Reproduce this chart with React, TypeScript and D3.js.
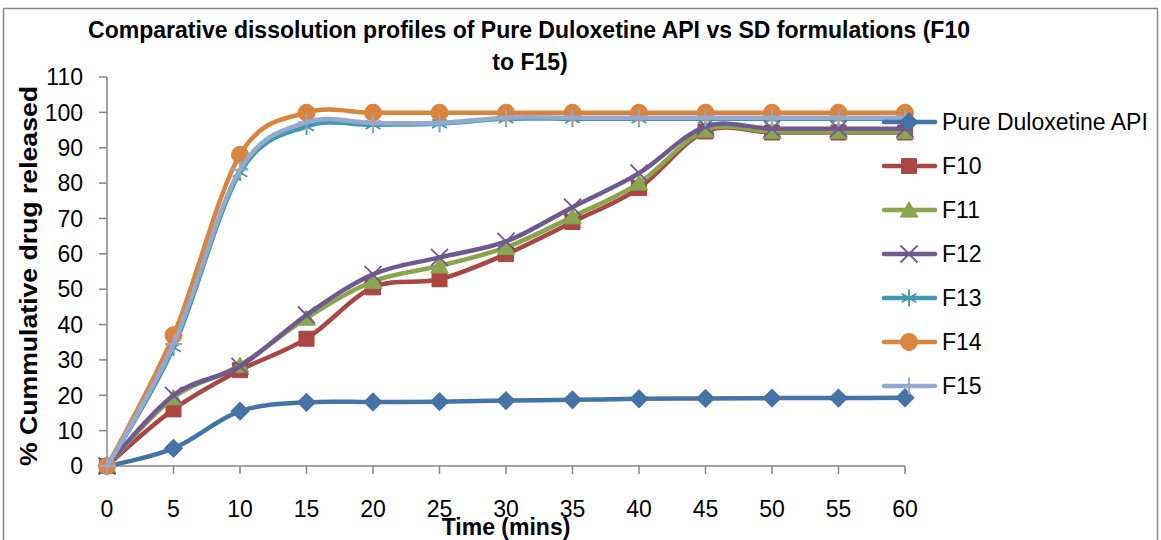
import React, { useEffect, useRef } from 'react';
import * as d3 from 'd3';

// minutes
const times = [0, 5, 10, 15, 20, 25, 30, 35, 40, 45, 50, 55, 60];

const pureApi = [0, 5.0, 15.5, 18.0, 18.1, 18.2, 18.5, 18.7, 19.0, 19.1, 19.2, 19.2, 19.3];
const f10 = [0, 16.0, 27.1, 36.0, 50.5, 52.8, 59.9, 69.0, 78.6, 94.6, 94.3, 94.3, 94.3];
const f11 = [0, 19.3, 28.5, 41.8, 52.2, 56.6, 61.8, 70.5, 80.0, 95.0, 94.6, 94.6, 94.6];
const f12 = [0, 20.0, 28.2, 42.7, 54.2, 59.0, 63.5, 73.2, 82.8, 96.0, 95.4, 95.4, 95.4];
const f13 = [0, 33.5, 83.0, 96.0, 96.5, 96.8, 98.2, 98.2, 98.2, 98.2, 98.2, 98.2, 98.2];
const f14 = [0, 37.0, 88.0, 99.9, 99.9, 99.9, 99.9, 99.9, 99.9, 99.9, 99.9, 99.9, 99.9];
const f15 = [0, 34.5, 83.8, 97.2, 97.0, 97.0, 98.5, 98.5, 98.5, 98.5, 98.5, 98.5, 98.5];

const seriesNames = ['Pure Duloxetine API', 'F10', 'F11', 'F12', 'F13', 'F14', 'F15'];
const seriesValues = [pureApi, f10, f11, f12, f13, f14, f15];
const seriesColors = ['#4572A7', '#AA4643', '#89A54E', '#71588F', '#4198AF', '#DB843D', '#93A9CF'];
const seriesMarkers = ['diamond', 'square', 'triangle', 'times', 'asterisk', 'circle', 'plus'];

const yTicks = [0, 10, 20, 30, 40, 50, 60, 70, 80, 90, 100, 110];
const xTicks = [0, 5, 10, 15, 20, 25, 30, 35, 40, 45, 50, 55, 60];

const FONT = '"Liberation Sans", Arial, sans-serif';

function markerPath(kind: string) {
	switch (kind) {
		case 'diamond':
			return d3.symbol().type(d3.symbolSquare).size(160)();
		case 'square':
			return d3.symbol().type(d3.symbolSquare).size(225)();
		case 'triangle':
			return d3.symbol().type(d3.symbolTriangle).size(135)();
		case 'circle':
			return d3.symbol().type(d3.symbolCircle).size(227)();
		case 'times':
			return d3.symbol().type(d3.symbolTimes).size(190)();
		case 'asterisk':
			return d3.symbol().type(d3.symbolAsterisk).size(205)();
		default:
			return d3.symbol().type(d3.symbolPlus).size(96)();
	}
}

const isStroked = (k: string) => k === 'times' || k === 'asterisk' || k === 'plus';

export default function App() {
	const ref = useRef<SVGSVGElement>(null);

	useEffect(() => {
		const width = 1161;
		const height = 540;
		const left = 107,
			right = 905,
			top = 77,
			bottom = 466;

		const svg = d3.select(ref.current);
		svg.selectAll('*').remove();
		svg.attr('width', width).attr('height', height);

		svg.append('rect').attr('width', width).attr('height', height).attr('fill', '#fff');
		// chart frame
		svg
			.append('rect')
			.attr('x', 3.5)
			.attr('y', 8.5)
			.attr('width', 1154)
			.attr('height', 600)
			.attr('fill', 'none')
			.attr('stroke', '#868686')
			.attr('stroke-width', 1.5);

		const x = d3.scaleLinear().domain([0, 60]).range([left, right]);
		const y = d3.scaleLinear().domain([0, 110]).range([bottom, top]);

		// title
		const title = svg
			.append('text')
			.attr('text-anchor', 'middle')
			.attr('font-family', FONT)
			.attr('font-weight', 'bold')
			.attr('font-size', 23);
		title
			.append('tspan')
			.attr('x', 529)
			.attr('y', 38)
			.attr('textLength', 882)
			.attr('lengthAdjust', 'spacingAndGlyphs')
			.text('Comparative dissolution profiles of Pure Duloxetine API vs SD formulations (F10');
		title.append('tspan').attr('x', 530).attr('y', 70).text('to F15)');

		// y axis
		const yAxis = svg.append('g');
		yAxis
			.append('line')
			.attr('x1', left)
			.attr('x2', left)
			.attr('y1', y(110))
			.attr('y2', y(0))
			.attr('stroke', '#868686')
			.attr('stroke-width', 1.5);
		yTicks.forEach(t => {
			yAxis
				.append('line')
				.attr('x1', left - 8)
				.attr('x2', left)
				.attr('y1', y(t))
				.attr('y2', y(t))
				.attr('stroke', '#868686')
				.attr('stroke-width', 1.5);
			yAxis
				.append('text')
				.attr('x', 83)
				.attr('y', y(t))
				.attr('dy', '0.36em')
				.attr('text-anchor', 'end')
				.attr('font-family', FONT)
				.attr('font-size', 23)
				.attr('fill', '#000')
				.text(t);
		});

		// x axis
		const xAxis = svg.append('g');
		xAxis
			.append('line')
			.attr('x1', x(0))
			.attr('x2', x(60))
			.attr('y1', bottom)
			.attr('y2', bottom)
			.attr('stroke', '#868686')
			.attr('stroke-width', 1.5);
		xTicks.forEach(t => {
			xAxis
				.append('line')
				.attr('x1', x(t))
				.attr('x2', x(t))
				.attr('y1', bottom)
				.attr('y2', bottom + 8)
				.attr('stroke', '#868686')
				.attr('stroke-width', 1.5);
			xAxis
				.append('text')
				.attr('x', x(t))
				.attr('y', 517)
				.attr('text-anchor', 'middle')
				.attr('font-family', FONT)
				.attr('font-size', 23)
				.attr('fill', '#000')
				.text(t);
		});

		// axis titles
		svg
			.append('text')
			.attr('transform', 'translate(37,276) rotate(-90)')
			.attr('text-anchor', 'middle')
			.attr('font-family', FONT)
			.attr('font-weight', 'bold')
			.attr('font-size', 23)
			.attr('textLength', 380)
			.attr('lengthAdjust', 'spacingAndGlyphs')
			.text('% Cummulative drug released');
		svg
			.append('text')
			.attr('x', 506)
			.attr('y', 535)
			.attr('text-anchor', 'middle')
			.attr('font-family', FONT)
			.attr('font-weight', 'bold')
			.attr('font-size', 23)
			.text('Time (mins)');

		// series: line then markers, in order
		const line = d3
			.line<number>()
			.x((d, i) => x(times[i]))
			.y(d => y(d))
			.curve(d3.curveCardinal.tension(0));

		const drawMarker = (g: any, kind: string, color: string, cx: number, cy: number) => {
			const rot = kind === 'diamond' ? ' rotate(45)' : '';
			const yOff = kind === 'triangle' ? 2 : 0;
			g.append('path')
				.attr('d', markerPath(kind))
				.attr('transform', `translate(${cx},${cy + yOff})${rot}`)
				.attr('fill', isStroked(kind) ? 'none' : color)
				.attr('stroke', color)
				.attr('stroke-width', isStroked(kind) ? 1.8 : 1);
		};

		seriesValues.forEach((vals, s) => {
			const g = svg.append('g');
			g.append('path')
				.datum(vals)
				.attr('fill', 'none')
				.attr('stroke', seriesColors[s])
				.attr('stroke-width', 4.5)
				.attr('stroke-linejoin', 'round')
				.attr('stroke-linecap', 'round')
				.attr('d', line);
			vals.forEach((v, i) => drawMarker(g, seriesMarkers[s], seriesColors[s], x(times[i]), y(v)));
		});

		// legend
		const legend = svg.append('g');
		seriesNames.forEach((name, s) => {
			const ly = 122 + s * 44;
			legend
				.append('line')
				.attr('x1', 884)
				.attr('x2', 935)
				.attr('y1', ly)
				.attr('y2', ly)
				.attr('stroke', seriesColors[s])
				.attr('stroke-width', 4.5)
				.attr('stroke-linecap', 'round');
			drawMarker(legend, seriesMarkers[s], seriesColors[s], 909, ly);
			legend
				.append('text')
				.attr('x', 942)
				.attr('y', ly)
				.attr('dy', '0.36em')
				.attr('font-family', FONT)
				.attr('font-size', 23)
				.attr('fill', '#000')
				.text(name);
		});
	}, []);

	return <svg ref={ref} style={{ position: 'absolute', left: 0, top: 0 }} />;
}
